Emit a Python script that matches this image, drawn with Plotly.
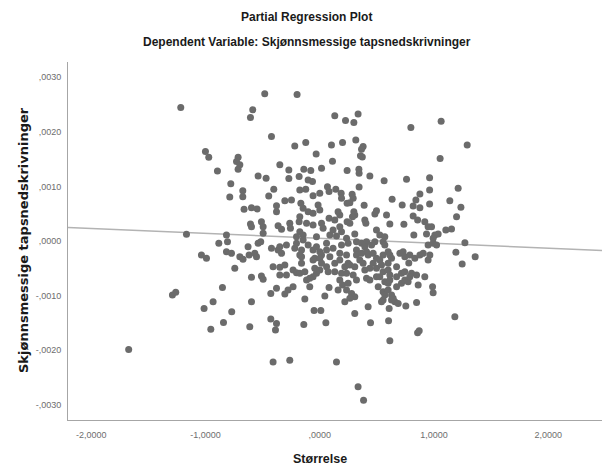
import plotly.graph_objects as go

# Partial regression residuals
x_vals = [
    -1.217, -0.482, -0.199, -0.587, -0.607, 0.131, 0.225, -0.423, -0.219, -0.123,
    0.102, 0.199, -1.001, -0.972, -0.715, -0.729, -0.700, -0.715, -0.032, 0.111,
    -0.896, -0.350, -0.271, -0.271, -0.140, -0.079, -0.181, -0.102, -0.064, 0.015,
    0.239, -0.779, -0.540, -0.470, -0.403, -0.674, -0.674, -0.788, -0.447, -0.175,
    -0.123, -0.059, 0.000, 0.067, 0.081, 0.140, 0.187, 0.190, 0.239, -0.663,
    -0.598, -0.549, -0.379, -0.379, -0.306, -0.248, -0.166, -0.146, -0.102, -0.059,
    -0.015, 0.000, -0.607, -0.598, -0.511, -0.496, -0.496, -0.365, -0.335, -0.263,
    -0.257, -0.181, -0.175, -0.146, -0.116, -0.059, 0.015, 0.029, 0.081, 0.175,
    0.175, 0.190, 0.239, -1.167, -0.817, -0.204, -0.029, 0.088, 0.116, 0.146,
    0.234, -0.175, 0.131, 0.160,
    0.298, 0.335, 0.797, 1.062, 0.315, 0.379, 0.365, 0.356, 0.372, 1.290,
    1.053, 0.342, 0.344, 0.438, 0.563, 0.759, 0.961, 0.344, 0.283, 0.292,
    0.263, 0.876, 0.961, 1.211, 0.633, 0.721, 0.817, 0.841, 0.876, 0.961,
    1.138, 1.235, 0.388, 0.496, 0.482, 0.584, 0.298, 0.306, 0.286, 0.394,
    0.403, 0.817, 0.856, 1.197, 0.613, 0.736, 0.919, 0.948, 0.978, 1.103,
    1.153, 0.496, 0.525, 0.569, 0.306, 0.823, 0.934, 1.007, 1.036, 0.992,
    0.263,
    -0.884, -0.808, -0.628, -0.540, -0.517, -0.423, -0.365, -0.335, -0.350, -0.292,
    -0.219, -0.160, -0.175, -0.160, -0.102, -0.059, -0.029, 0.000, 0.015, -0.044,
    0.000, 0.059, 0.088, 0.116, 0.175, 0.234, 0.190, 0.248, -1.036, -0.992,
    -0.817, -0.773, -0.700, -0.672, -0.619, -0.569, -0.554, -0.744, -0.598, -0.511,
    -0.496, -0.409, -0.350, -0.306, -0.350, -0.292, -0.234, -0.204, -0.175, -0.131,
    -0.160, -0.116, -0.059, -0.044, -0.029, 0.000, -0.059, 0.059, 0.073, 0.131,
    0.131, 0.175, 0.190, 0.219, 0.248, 0.234, 0.175, 0.199, 0.160, 0.248,
    0.234, 0.219, 0.081, 0.044, -0.234, -0.278, -0.306, -0.379, -0.429, -0.131,
    -0.852, -1.290, -1.261, -0.934, -1.013, -0.771, -0.598, -0.954, -0.843, -0.613,
    -0.429, -0.379, -0.388, -0.140, -0.050, 0.009, 0.053, -1.673, -0.409, -0.263,
    0.146, -0.146, -0.204, -0.088, -0.088, 0.015, 0.059,
    0.321, 0.365, 0.409, 0.394, 0.453, 0.482, 0.554, 0.569, 0.321, 0.321,
    0.365, 0.409, 0.423, 0.467, 0.496, 0.525, 0.554, 0.598, 0.613, 0.628,
    0.701, 0.729, 0.744, 0.788, 0.832, 0.876, 0.905, 0.963, 0.948, 0.948,
    0.992, 1.022, 1.270, 1.191, 1.360, 1.246, 0.263, 0.306, 0.379, 0.394,
    0.438, 0.467, 0.496, 0.540, 0.554, 0.598, 0.613, 0.672, 0.715, 0.744,
    0.803, 0.847, 0.919, 0.321, 0.409, 0.438, 0.496, 0.525, 0.569, 0.598,
    0.613, 0.672, 0.715, 0.744, 0.773, 0.788, 0.861, 0.278, 0.306, 0.263,
    0.511, 0.554, 0.569, 0.598, 0.628, 0.628, 0.657, 0.686, 0.642, 0.554,
    0.540, 0.423, 0.607, 0.753, 0.847, 0.987, 0.992, 0.306, 0.444, 0.602,
    1.182, 0.856, 0.870, 0.613, 0.335, 0.383, 0.350, 0.292, 0.779, 0.672,
    0.598,
]

y_vals = [
    2.446e-3, 2.697e-3, 2.684e-3, 2.404e-3, 2.262e-3, 2.294e-3, 2.207e-3, 1.914e-3, 1.743e-3, 1.804e-3,
    1.761e-3, 1.804e-3, 1.639e-3, 1.536e-3, 1.536e-3, 1.455e-3, 1.395e-3, 1.316e-3, 1.596e-3, 1.462e-3,
    1.284e-3, 1.395e-3, 1.303e-3, 1.143e-3, 1.316e-3, 1.290e-3, 1.180e-3, 1.119e-3, 1.088e-3, 1.334e-3,
    1.290e-3, 1.051e-3, 1.193e-3, 1.150e-3, 0.949e-3, 0.923e-3, 0.813e-3, 0.807e-3, 0.826e-3, 0.936e-3,
    0.949e-3, 0.831e-3, 0.875e-3, 0.996e-3, 0.905e-3, 0.949e-3, 0.875e-3, 0.784e-3, 0.692e-3, 0.582e-3,
    0.611e-3, 0.587e-3, 0.648e-3, 0.538e-3, 0.739e-3, 0.752e-3, 0.692e-3, 0.600e-3, 0.538e-3, 0.508e-3,
    0.661e-3, 0.569e-3, 0.312e-3, 0.262e-3, 0.354e-3, 0.262e-3, 0.141e-3, 0.281e-3, 0.215e-3, 0.325e-3,
    0.233e-3, 0.354e-3, 0.171e-3, 0.110e-3, 0.325e-3, 0.294e-3, 0.325e-3, 0.233e-3, 0.417e-3, 0.477e-3,
    0.262e-3, 0.171e-3, 0.354e-3, 0.123e-3, 0.110e-3, 0.079e-3, 0.079e-3, 0.110e-3, 0.202e-3, 0.092e-3,
    0.050e-3, 0.446e-3, 0.385e-3, 0.538e-3,
    2.171e-3, 2.325e-3, 2.079e-3, 2.196e-3, 1.853e-3, 1.730e-3, 1.679e-3, 1.560e-3, 1.541e-3, 1.761e-3,
    1.510e-3, 1.316e-3, 1.242e-3, 1.193e-3, 1.106e-3, 1.132e-3, 1.161e-3, 0.991e-3, 0.857e-3, 0.784e-3,
    0.703e-3, 0.862e-3, 0.936e-3, 0.967e-3, 0.765e-3, 0.661e-3, 0.642e-3, 0.752e-3, 0.611e-3, 0.679e-3,
    0.739e-3, 0.618e-3, 0.655e-3, 0.556e-3, 0.495e-3, 0.477e-3, 0.538e-3, 0.477e-3, 0.446e-3, 0.385e-3,
    0.325e-3, 0.459e-3, 0.385e-3, 0.446e-3, 0.312e-3, 0.306e-3, 0.354e-3, 0.262e-3, 0.262e-3, 0.202e-3,
    0.220e-3, 0.202e-3, 0.110e-3, 0.079e-3, 0.128e-3, 0.110e-3, 0.128e-3, 0.110e-3, 0.128e-3, 0.050e-3,
    0.325e-3,
    -0.042e-3, -0.013e-3, -0.105e-3, -0.042e-3, -0.013e-3, -0.134e-3, -0.165e-3, -0.226e-3, -0.105e-3, -0.073e-3,
    -0.134e-3, -0.165e-3, -0.257e-3, -0.288e-3, -0.073e-3, -0.165e-3, -0.105e-3, -0.196e-3, -0.257e-3, -0.317e-3,
    -0.317e-3, -0.165e-3, -0.288e-3, -0.134e-3, -0.226e-3, -0.257e-3, -0.073e-3, -0.042e-3, -0.257e-3, -0.317e-3,
    -0.196e-3, -0.226e-3, -0.288e-3, -0.336e-3, -0.257e-3, -0.226e-3, -0.288e-3, -0.501e-3, -0.666e-3, -0.642e-3,
    -0.703e-3, -0.472e-3, -0.483e-3, -0.440e-3, -0.624e-3, -0.624e-3, -0.532e-3, -0.582e-3, -0.593e-3, -0.563e-3,
    -0.409e-3, -0.716e-3, -0.349e-3, -0.501e-3, -0.593e-3, -0.532e-3, -0.655e-3, -0.472e-3, -0.563e-3, -0.409e-3,
    -0.563e-3, -0.349e-3, -0.593e-3, -0.472e-3, -0.409e-3, -0.593e-3, -0.716e-3, -0.807e-3, -0.899e-3, -0.776e-3,
    -0.899e-3, -1.114e-3, -0.850e-3, -1.009e-3, -0.839e-3, -0.899e-3, -0.972e-3, -0.868e-3, -0.960e-3, -1.064e-3,
    -0.850e-3, -0.991e-3, -0.941e-3, -1.114e-3, -1.235e-3, -1.297e-3, -1.114e-3, -1.615e-3, -1.492e-3, -1.573e-3,
    -1.431e-3, -1.510e-3, -1.633e-3, -1.528e-3, -1.272e-3, -1.272e-3, -1.499e-3, -1.987e-3, -2.215e-3, -2.184e-3,
    -2.215e-3, 0.018e-3, -0.042e-3, -0.684e-3, -0.839e-3, -0.409e-3, -0.042e-3,
    -0.013e-3, -0.042e-3, -0.013e-3, -0.105e-3, -0.073e-3, -0.013e-3, -0.013e-3, -0.073e-3, -0.165e-3, -0.257e-3,
    -0.226e-3, -0.196e-3, -0.257e-3, -0.226e-3, -0.317e-3, -0.349e-3, -0.257e-3, -0.196e-3, -0.257e-3, -0.317e-3,
    -0.226e-3, -0.196e-3, -0.288e-3, -0.257e-3, -0.317e-3, -0.257e-3, -0.226e-3, -0.257e-3, -0.349e-3, -0.073e-3,
    -0.042e-3, -0.073e-3, -0.031e-3, -0.207e-3, -0.288e-3, -0.422e-3, -0.440e-3, -0.472e-3, -0.409e-3, -0.532e-3,
    -0.501e-3, -0.409e-3, -0.501e-3, -0.440e-3, -0.563e-3, -0.532e-3, -0.624e-3, -0.655e-3, -0.593e-3, -0.563e-3,
    -0.593e-3, -0.624e-3, -0.655e-3, -0.716e-3, -0.684e-3, -0.716e-3, -0.655e-3, -0.655e-3, -0.747e-3, -0.776e-3,
    -0.716e-3, -0.839e-3, -0.776e-3, -0.716e-3, -0.747e-3, -0.655e-3, -0.807e-3, -0.960e-3, -1.022e-3, -1.051e-3,
    -0.839e-3, -0.930e-3, -0.991e-3, -0.899e-3, -0.991e-3, -1.083e-3, -1.114e-3, -1.143e-3, -1.051e-3, -1.083e-3,
    -1.114e-3, -1.206e-3, -1.235e-3, -1.193e-3, -1.125e-3, -0.839e-3, -0.949e-3, -1.327e-3, -1.499e-3, -1.462e-3,
    -1.389e-3, -1.683e-3, -1.646e-3, -1.829e-3, -2.673e-3, -2.918e-3, -0.349e-3, -0.624e-3, -0.404e-3, -0.472e-3,
    -0.409e-3,
]

# Fit line (ends at the axis limits)
fit_x = [-2.204, 2.47]
fit_y = [0.248e-3, -0.174e-3]

x_tickvals = [-2, -1, 0, 1, 2]
x_ticktext = ["-2,0000", "-1,0000", ",0000", "1,0000", "2,0000"]
y_tickvals = [-0.003, -0.002, -0.001, 0.0, 0.001, 0.002, 0.003]
y_ticktext = ["-,0030", "-,0020", "-,0010", ",0000", ",0010", ",0020", ",0030"]

title_main = "Partial Regression Plot"
title_sub = "Dependent Variable: Skjønnsmessige tapsnedskrivninger"
x_title = "Størrelse"
y_title = "Skjønnsmessige tapsnedskrivninger"

SANS = "Liberation Sans, Arial, sans-serif"

fig = go.Figure()
fig.add_trace(go.Scatter(
    x=fit_x, y=fit_y, mode="lines",
    line=dict(color="#b3b3b3", width=1.5),
    hoverinfo="skip", showlegend=False,
))
fig.add_trace(go.Scatter(
    x=x_vals, y=y_vals, mode="markers",
    marker=dict(size=7, color="#6b6b6b", line=dict(width=0)),
    showlegend=False,
))

W, H = 602, 468
L, R, T, B = 68, 0, 62, 48
pw, ph = W - L - R, H - T - B


def px(xp):
    return (xp - L) / pw


def py(yp):
    return (H - B - yp) / ph


fig.update_layout(
    width=W, height=H,
    margin=dict(l=L, r=R, t=T, b=B),
    paper_bgcolor="white", plot_bgcolor="white",
    showlegend=False,
    xaxis=dict(
        range=[-2.204, 2.47], tickvals=x_tickvals, ticktext=x_ticktext,
        showgrid=False, zeroline=False, showline=True, linecolor="#a6a6a6", linewidth=1,
        ticks="", ticklabelstandoff=6,
        tickfont=dict(family=SANS, size=9, color="#6e6e6e"),
    ),
    yaxis=dict(
        range=[-3.28e-3, 3.28e-3], tickvals=y_tickvals, ticktext=y_ticktext,
        showgrid=False, zeroline=False, showline=True, linecolor="#a6a6a6", linewidth=1,
        ticks="", ticklabelstandoff=4,
        tickfont=dict(family=SANS, size=9, color="#6e6e6e"),
    ),
    annotations=[
        dict(text=title_main, x=px(306.5), y=py(17), xref="paper", yref="paper",
             xanchor="center", yanchor="middle", showarrow=False,
             font=dict(family=SANS, size=12, color="#1a1a1a", weight="bold")),
        dict(text=title_sub, x=px(306.5), y=py(42), xref="paper", yref="paper",
             xanchor="center", yanchor="middle", showarrow=False,
             font=dict(family=SANS, size=12, color="#1a1a1a", weight="bold")),
        dict(text=x_title, x=px(320), y=py(459), xref="paper", yref="paper",
             xanchor="center", yanchor="middle", showarrow=False,
             font=dict(family=SANS, size=12.5, color="#1a1a1a", weight="bold")),
        dict(text=y_title, x=px(23), y=py(240), xref="paper", yref="paper",
             xanchor="center", yanchor="middle", showarrow=False, textangle=-90,
             font=dict(family="DejaVu Sans, Verdana, sans-serif", size=13, color="#1a1a1a", weight="bold")),
    ],
)

fig.write_html("out.html")
